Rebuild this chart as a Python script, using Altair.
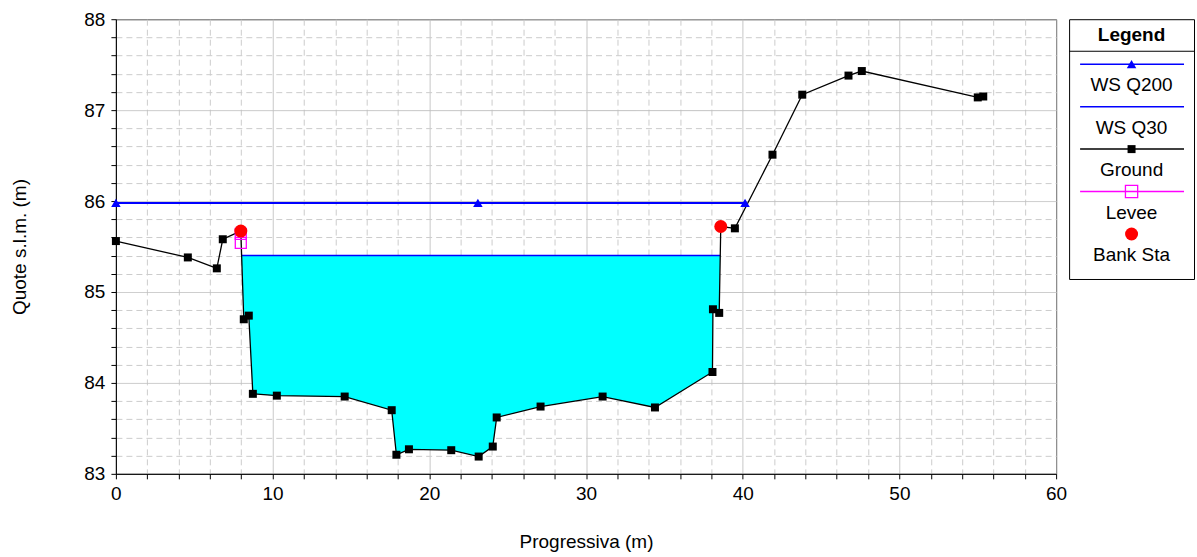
import altair as alt
import pandas as pd

# Cross-section survey: station (m) and ground elevation (m a.s.l.)
ground_x = [0.0, 4.59, 6.44, 6.82, 7.97, 8.16, 8.48, 8.74, 10.27, 14.6, 17.6,
            17.9, 18.7, 21.4, 23.15, 24.05, 24.3, 27.1, 31.06, 34.4, 38.07,
            38.1, 38.5, 38.6, 39.5, 41.9, 43.8, 46.75, 47.6, 55.0, 55.35]
ground_y = [85.56, 85.38, 85.26, 85.58, 85.67, 84.70, 84.74, 83.88, 83.86,
            83.85, 83.70, 83.21, 83.27, 83.26, 83.19, 83.30, 83.62, 83.74,
            83.85, 83.73, 84.12, 84.81, 84.77, 85.72, 85.70, 86.51, 87.17,
            87.38, 87.43, 87.14, 87.15]

# Bank stations and levee markers
bank_x = [7.97, 38.6]
bank_y = [85.67, 85.72]
levee_x = [7.97, 7.97]
levee_y = [85.64, 85.54]

# Water surfaces
ws200_level = 85.98
ws200_x = [0.0, 23.1, 40.15]
ws30_level = 85.40

# Axis ticks
x_ticks = list(range(0, 62, 2))
y_ticks = [round(83 + 0.2 * i, 1) for i in range(26)]

# Legend entries
legend_names = ["WS Q200", "WS Q30", "Ground", "Levee", "Bank Sta"]
legend_colors = ["#0000ff", "#0000ff", "#000000", "#ff00ff", "#ff0000"]
legend_shapes = ["triangle-up", "", "square", "square", "circle"]
legend_filled = [True, True, True, False, True]
legend_lines = [True, True, True, True, False]
legend_sizes = [90, 0, 64, 150, 169]

FONT = "Liberation Sans"
FS = 19

# --- water body for WS Q30: ground between the two level crossings ---
left_bank = ground_x.index(bank_x[0])
right_bank = ground_x.index(bank_x[1])


def cross(i, level):
    x0, y0, x1, y1 = ground_x[i], ground_y[i], ground_x[i + 1], ground_y[i + 1]
    return x0 + (level - y0) * (x1 - x0) / (y1 - y0)


seg_l = next(i for i in range(left_bank, right_bank)
             if ground_y[i] >= ws30_level > ground_y[i + 1])
seg_r = next(i for i in range(right_bank - 1, left_bank - 1, -1)
             if ground_y[i] < ws30_level <= ground_y[i + 1])
wl, wr = cross(seg_l, ws30_level), cross(seg_r, ws30_level)
water_x = [wl] + ground_x[seg_l + 1:seg_r + 1] + [wr]
water_y = [ws30_level] + ground_y[seg_l + 1:seg_r + 1] + [ws30_level]

ground = pd.DataFrame({"x": ground_x, "y": ground_y})
water = pd.DataFrame({"x": water_x, "y": water_y, "top": ws30_level})
ws30 = pd.DataFrame({"x": [wl, wr], "y": [ws30_level, ws30_level]})
ws200 = pd.DataFrame({"x": ws200_x, "y": [ws200_level] * len(ws200_x)})
banks = pd.DataFrame({"x": bank_x, "y": bank_y})
levees = pd.DataFrame({"x": levee_x, "y": levee_y})

major_x = "datum.value % 10 === 0"
major_y = "datum.value % 1 === 0"

xs = alt.Scale(domain=[0, 60], nice=False, zero=False)
ys = alt.Scale(domain=[83, 88], nice=False, zero=False)

x_axis = alt.Axis(
    values=x_ticks, title="Progressiva (m)",
    labelExpr=f"{major_x} ? datum.label : ''",
    gridDash={"condition": {"test": major_x, "value": [1, 0]}, "value": [6, 4]},
    gridColor={"condition": {"test": major_x, "value": "#c0c0c0"}, "value": "#cccccc"},
    tickSize=5, labelPadding=6, titlePadding=29,
    labelFlush=False, labelOverlap=False,
)
y_axis = alt.Axis(
    values=y_ticks, title="Quote s.l.m. (m)",
    labelExpr=f"{major_y} ? format(datum.value, 'd') : ''",
    gridDash={"condition": {"test": major_y, "value": [1, 0]}, "value": [6, 4]},
    gridColor={"condition": {"test": major_y, "value": "#c0c0c0"}, "value": "#cccccc"},
    tickSize=5, labelPadding=6, titlePadding=54,
    labelFlush=False, labelOverlap=False,
)

X = alt.X("x:Q", scale=xs, axis=x_axis)
Y = alt.Y("y:Q", scale=ys, axis=y_axis)

water_area = alt.Chart(water).mark_area(color="#00ffff", opacity=1).encode(
    x=X, y=Y, y2="top:Q")
ws30_line = alt.Chart(ws30).mark_line(color="#0000ff", strokeWidth=1.5).encode(x=X, y=Y)
ws200_line = alt.Chart(ws200).mark_line(color="#0000ff", strokeWidth=2).encode(x=X, y=Y)
ws200_pts = alt.Chart(ws200).mark_point(
    shape="triangle-up", filled=True, color="#0000ff", size=90, opacity=1
).encode(x=X, y=Y)
ground_line = alt.Chart(ground).mark_line(color="black", strokeWidth=1.3).encode(x=X, y=Y)
ground_pts = alt.Chart(ground).mark_point(
    shape="square", filled=True, color="black", size=64, opacity=1
).encode(x=X, y=Y)
levee_pts = alt.Chart(levees).mark_point(
    shape="square", filled=False, color="#ff00ff", size=121, strokeWidth=1.3, opacity=1
).encode(x=X, y=Y)
bank_pts = alt.Chart(banks).mark_point(
    shape="circle", filled=True, color="#ff0000", size=169, opacity=1
).encode(x=X, y=Y)

main = alt.layer(
    water_area, ws30_line, ws200_line, ground_line, ground_pts,
    ws200_pts, levee_pts, bank_pts
).properties(width=941, height=455)

# --- legend panel: symbol row above its label, one block per series ---
LW, LH = 125, 260
leg = pd.DataFrame({
    "name": legend_names, "color": legend_colors, "shape": legend_shapes,
    "filled": legend_filled, "line": legend_lines, "size": legend_sizes,
})
leg["sym"] = [2 * i + 1 for i in range(len(leg))]
leg["lab"] = [2 * i + 2 for i in range(len(leg))]
head = pd.DataFrame({"t": ["Legend"], "s": [-0.36], "sep": [0.39]})

ly = alt.Scale(domain=[-1.12, 11.12], reverse=True, nice=False, zero=False)
cx = alt.value(LW / 2)

leg_title = alt.Chart(head).mark_text(
    fontWeight="bold", fontSize=FS, font=FONT, color="black"
).encode(x=cx, y=alt.Y("s:Q", scale=ly, axis=None), text="t:N")
leg_sep = alt.Chart(head).mark_rule(color="black", strokeWidth=1).encode(
    x=alt.value(0), x2=alt.value(LW), y=alt.Y("sep:Q", scale=ly, axis=None))
leg_lines = alt.Chart(leg).transform_filter("datum.line").mark_rule(strokeWidth=1.5).encode(
    x=alt.value(11), x2=alt.value(LW - 10),
    y=alt.Y("sym:Q", scale=ly, axis=None),
    color=alt.Color("color:N", scale=None))
leg_solid = alt.Chart(leg).transform_filter("datum.filled && datum.shape != ''").mark_point(
    filled=True, opacity=1).encode(
    x=cx, y=alt.Y("sym:Q", scale=ly, axis=None),
    shape=alt.Shape("shape:N", scale=None),
    color=alt.Color("color:N", scale=None),
    size=alt.Size("size:Q", scale=None))
leg_open = alt.Chart(leg).transform_filter("!datum.filled").mark_point(
    filled=False, opacity=1, strokeWidth=1.3).encode(
    x=cx, y=alt.Y("sym:Q", scale=ly, axis=None),
    shape=alt.Shape("shape:N", scale=None),
    color=alt.Color("color:N", scale=None),
    size=alt.Size("size:Q", scale=None))
leg_text = alt.Chart(leg).mark_text(fontSize=FS, font=FONT, color="black").encode(
    x=cx, y=alt.Y("lab:Q", scale=ly, axis=None), text="name:N")

legend = alt.layer(
    leg_title, leg_sep, leg_lines, leg_solid, leg_open, leg_text
).properties(width=LW, height=LH)

chart = alt.hconcat(main, legend, spacing=13, bounds="flush").properties(
    padding={"left": 10, "top": 9, "right": 2, "bottom": 2}
).configure(font=FONT).configure_view(
    stroke="black", strokeWidth=1
).configure_axis(
    labelFont=FONT, titleFont=FONT, labelFontSize=FS, titleFontSize=FS,
    labelColor="black", titleColor="black", titleFontWeight="normal",
    domainColor="black", tickColor="black", gridOpacity=1,
)

chart.save("out.html", embed_options={"renderer": "svg", "actions": False})
